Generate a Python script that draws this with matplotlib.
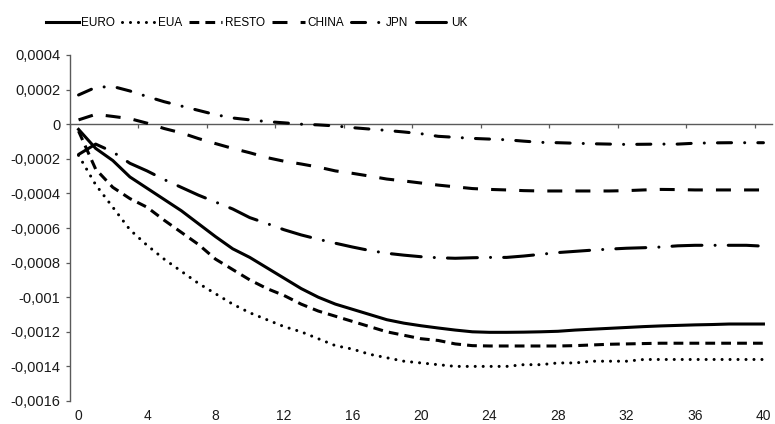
"""
Impulse responses by region, periods 0-40 (Excel-style black & white line chart)
"""
import numpy as np, matplotlib
matplotlib.use('Agg')
import matplotlib.pyplot as plt

periods = list(range(41))

euro = [-0.00003, -0.00014, -0.00021, -0.000305, -0.00037, -0.000435, -0.0005, -0.000575, -0.00065, -0.00072,
        -0.00077, -0.00083, -0.00089, -0.00095, -0.001, -0.00104, -0.00107, -0.0011, -0.00113, -0.00115,
        -0.001165, -0.001178, -0.00119, -0.0012, -0.001203, -0.001203, -0.001202, -0.0012, -0.001197, -0.00119,
        -0.001185, -0.00118, -0.001175, -0.00117, -0.001166, -0.001163, -0.00116, -0.001158, -0.001155, -0.001155,
        -0.001155]
eua = [-0.00018, -0.00035, -0.00048, -0.00061, -0.0007, -0.00078, -0.00085, -0.00092, -0.00098, -0.00104,
       -0.00109, -0.00113, -0.00117, -0.0012, -0.00124, -0.00128, -0.0013, -0.00133, -0.00135, -0.00137,
       -0.00138, -0.00139, -0.0014, -0.0014, -0.0014, -0.0014, -0.00139, -0.00139, -0.00138, -0.00138,
       -0.00137, -0.00137, -0.00137, -0.00136, -0.00136, -0.00136, -0.00136, -0.00136, -0.00136, -0.00136,
       -0.00136]
resto = [-0.00004, -0.00026, -0.000365, -0.00043, -0.00048, -0.000555, -0.000625, -0.000695, -0.00078, -0.00084,
         -0.0009, -0.00095, -0.00099, -0.00104, -0.00108, -0.00111, -0.00114, -0.00117, -0.0012, -0.00122,
         -0.00124, -0.00125, -0.00127, -0.00128, -0.001282, -0.001282, -0.001282, -0.001282, -0.001282, -0.00128,
         -0.001276, -0.001272, -0.00127, -0.001268, -0.001266, -0.001266, -0.001266, -0.001266, -0.001266, -0.001266,
         -0.001266]
china = [0.000025, 0.000057, 0.000045, 0.000032, 0.000006, -0.000025, -0.00005, -0.000083, -0.000112, -0.00014,
         -0.000165, -0.000193, -0.000214, -0.00023, -0.000248, -0.00027, -0.000284, -0.0003, -0.000317, -0.000328,
         -0.00034, -0.000352, -0.000362, -0.000372, -0.000377, -0.00038, -0.000384, -0.000386, -0.000386, -0.000386,
         -0.000386, -0.000386, -0.000384, -0.00038, -0.000377, -0.000378, -0.00038, -0.00038, -0.00038, -0.00038,
         -0.00038]
jpn = [0.000169, 0.000213, 0.000218, 0.000192, 0.00016, 0.00013, 0.000105, 0.00008, 0.000055, 0.000036,
       0.000025, 0.000015, 0.000008, 0.0, -0.000004, -0.00001, -0.00002, -0.000028, -0.000036, -0.000045,
       -0.000055, -0.00007, -0.000076, -0.000082, -0.000086, -0.00009, -0.000098, -0.000105, -0.000107, -0.00011,
       -0.000113, -0.000115, -0.000117, -0.000116, -0.000115, -0.000115, -0.00011, -0.000108, -0.000107, -0.000107,
       -0.000107]
uk = [-0.000175, -0.000115, -0.00016, -0.000226, -0.00027, -0.00032, -0.000365, -0.00041, -0.00045, -0.00049,
      -0.00054, -0.000574, -0.00061, -0.00064, -0.000665, -0.000688, -0.00071, -0.00073, -0.000746, -0.000757,
      -0.000766, -0.000772, -0.000775, -0.000772, -0.00077, -0.00077, -0.000762, -0.000752, -0.000742, -0.000735,
      -0.000728, -0.000722, -0.000717, -0.000714, -0.00071, -0.000703, -0.0007, -0.0007, -0.0007, -0.0007,
      -0.000705]

series_names = ['EURO', 'EUA', 'RESTO', 'CHINA', 'JPN', 'UK']
series_vals = [euro, eua, resto, china, jpn, uk]

xtick_vals = list(range(0, 41, 4))
ytick_vals = [0.0004, 0.0002, 0, -0.0002, -0.0004, -0.0006, -0.0008,
              -0.001, -0.0012, -0.0014, -0.0016]
ytick_labels = ['0,0004', '0,0002', '0', '-0,0002', '-0,0004', '-0,0006', '-0,0008',
                '-0,001', '-0,0012', '-0,0014', '-0,0016']

# line styles (dash patterns in units of linewidth)
STYLES = {
    'EURO':  dict(linestyle='-'),
    'EUA':   dict(linestyle=(0, (0.01, 2.6)), dash_capstyle='round'),
    'RESTO': dict(linestyle=(0, (3.2, 2.0))),
    'CHINA': dict(linestyle=(0, (4.9, 4.3))),
    'JPN':   dict(linestyle=(0, (4.6, 4.3, 0.01, 4.3)), dash_capstyle='round'),
    'UK':    dict(linestyle=(0, (9.8, 4.3, 0.01, 4.3)), dash_capstyle='round'),
}
AXIS_C = '#5a5a5a'
TEXT_C = '#1a1a1a'
FONT = ['Liberation Sans', 'DejaVu Sans']

fig = plt.figure(figsize=(7.75, 4.24), dpi=100)
fig.patch.set_facecolor('white')
ax = fig.add_axes([70 / 775, 23 / 424, 702 / 775, 346 / 424])

for name, vals in zip(series_names, series_vals):
    ax.plot(periods, vals, color='black', linewidth=2.2, label=name, **STYLES[name])

ax.set_xlim(-0.5, 40.5)
ax.set_ylim(-0.0016, 0.0004)

ax.set_yticks(ytick_vals)
ax.set_yticklabels(ytick_labels, family=FONT, fontsize=10.5, color=TEXT_C)
ax.set_xticks(xtick_vals)
ax.set_xticklabels([str(v) for v in xtick_vals], family=FONT, fontsize=10, color=TEXT_C)
ax.tick_params(axis='y', direction='out', length=3, width=0.9, color=AXIS_C, pad=4)
ax.tick_params(axis='x', length=0, pad=6)

ax.spines[['top', 'right', 'bottom']].set_visible(False)
ax.spines['left'].set_color(AXIS_C)
ax.spines['left'].set_linewidth(1.0)

# horizontal category axis crossing at zero, ticks between categories
zero_ax = ax.secondary_xaxis(0, transform=ax.transData)
zero_ax.set_alignment('bottom')
zero_ax.set_xticks(np.arange(-0.5, 41, 4))
zero_ax.set_xticklabels([])
zero_ax.tick_params(direction='out', length=3, width=0.9, color=AXIS_C)
zero_ax.spines['bottom'].set_color(AXIS_C)
zero_ax.spines['bottom'].set_linewidth(1.0)

handles, labels = ax.get_legend_handles_labels()
fig.legend(handles, labels, loc='center left', bbox_to_anchor=(46 / 775, 1 - 23 / 424),
           ncol=6, frameon=False, handlelength=2.8, handletextpad=0.2,
           columnspacing=0.6, borderpad=0, borderaxespad=0,
           prop=dict(family=FONT, size=8.5))

plt.savefig('out.png', dpi=100, facecolor='white')
plt.close()
